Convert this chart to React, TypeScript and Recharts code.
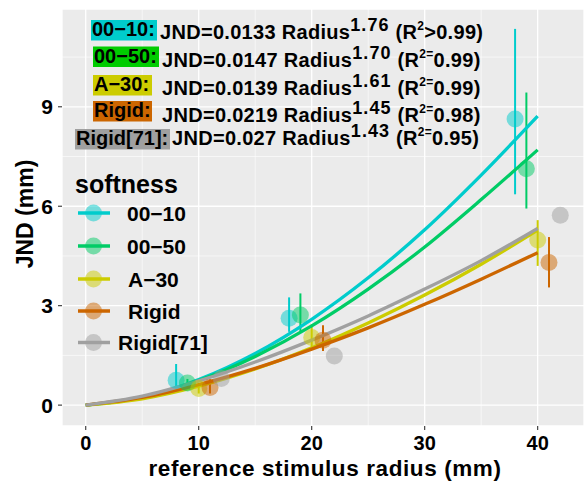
import {
    ComposedChart,
    Line,
    Scatter,
    ErrorBar,
    XAxis,
    YAxis,
    CartesianGrid,
    ReferenceLine
} from 'recharts'

// softness groups (legend order)
const softness = ['00−10', '00−50', 'A−30', 'Rigid', 'Rigid[71]']
const lineColors = ['#00CCCC', '#00CC66', '#CCCC00', '#CC6600', '#A0A0A0']
const labelFills = ['#00CCCC', '#00CC00', '#CCCC00', '#CC6600', '#A0A0A0']

// fit annotations
const coefs = ['0.0133', '0.0147', '0.0139', '0.0219', '0.027']
const exponents = ['1.76', '1.70', '1.61', '1.45', '1.43']
const r2Values = ['>0.99', '=0.99', '=0.99', '=0.98', '=0.95']

// measured points (x = reference radius, y = JND mean, low/high = error bar ends)
const x0010 = [8, 18, 38]
const y0010 = [0.75, 2.62, 8.63]
const low0010 = [0.45, 2.21, 6.36]
const high0010 = [1.24, 3.25, 11.35]

const x0050 = [9, 19, 39]
const y0050 = [0.67, 2.72, 7.13]
const low0050 = [0.53, 2.21, 5.93]
const high0050 = [0.79, 3.37, 9.43]

const xA30 = [10, 20, 40]
const yA30 = [0.5, 2.04, 4.98]
const lowA30 = [0.35, 1.66, 4.2]
const highA30 = [0.63, 2.44, 5.58]

const xRigid = [11, 21, 41]
const yRigid = [0.53, 1.96, 4.3]
const lowRigid = [0.35, 1.63, 3.55]
const highRigid = [0.78, 2.41, 5.07]

const xRigid71 = [12, 22, 42]
const yRigid71 = [0.8, 1.48, 5.73]

// fitted power curves
const fitX = [0, 5, 10, 15, 20, 25, 30, 35, 40]
const fit0010 = [0, 0.23, 0.77, 1.56, 2.59, 3.84, 5.29, 6.94, 8.72]
const fit0050 = [0, 0.23, 0.74, 1.47, 2.39, 3.5, 4.77, 6.2, 7.7]
const fitA30 = [0, 0.19, 0.57, 1.09, 1.73, 2.48, 3.32, 4.25, 5.28]
const fitRigid = [0, 0.23, 0.62, 1.11, 1.69, 2.33, 3.04, 3.8, 4.6]
const fitRigid71 = [0, 0.27, 0.73, 1.3, 1.96, 2.69, 3.5, 4.36, 5.33]

const xTicks = [0, 10, 20, 30, 40]
const yTicks = [0, 3, 6, 9]
const xMinor = [5, 15, 25, 35]
const yMinor = [1.5, 4.5, 7.5, 10.5]

const FONT = '"Liberation Sans", Arial, Helvetica, sans-serif'

function points(xs: number[], ys: number[], lows?: number[], highs?: number[]) {
    return xs.map((x, i) => ({
        x,
        y: ys[i],
        err: lows && highs ? [ys[i] - lows[i], highs[i] - ys[i]] : undefined
    }))
}

function curve(ys: number[]) {
    return fitX.map((x, i) => ({ x, y: ys[i] }))
}

const pointSets = [
    points(x0010, y0010, low0010, high0010),
    points(x0050, y0050, low0050, high0050),
    points(xA30, yA30, lowA30, highA30),
    points(xRigid, yRigid, lowRigid, highRigid),
    points(xRigid71, yRigid71)
]
const curveSets = [fit0010, fit0050, fitA30, fitRigid, fitRigid71].map(curve)

const dotShape = (color: string) => (props: any) => (
    <circle cx={props.cx} cy={props.cy} r={8.5} fill={color} fillOpacity={0.5} />
)

// annotation layout, pixels
const labelBaselines = [36, 62.5, 91, 117, 145]
const textBaselines = [38.5, 66.5, 95, 121.5, 145]
const labelX = [92, 94, 94, 94, 76]
const boxX = [91, 93, 93, 93, 75]
const boxW = [66, 66, 59, 59, 95]
const textX = [160, 162, 162, 162, 172]

const legendRows = [213, 246, 279, 311, 342.5]
const legendLabelX = [127, 127, 128, 128, 118]

function Annotations() {
    return (
        <svg
            width={587}
            height={483}
            style={{ position: 'absolute', left: 0, top: 0, pointerEvents: 'none' }}
            fontFamily={FONT}
            fontWeight="bold"
        >
            {softness.map((s, i) => (
                <g key={s}>
                    <rect x={boxX[i]} y={labelBaselines[i] - 16} width={boxW[i]} height={20.5} fill={labelFills[i]} />
                    <text x={labelX[i]} y={labelBaselines[i]} fontSize={20} fill="#000">{s}:</text>
                    <text x={textX[i]} y={textBaselines[i]} fontSize={20} letterSpacing={0.3} fill="#000">
                        JND={coefs[i]} Radius
                        <tspan dy={-8} fontSize={18} letterSpacing={1.1}>{exponents[i]}</tspan>
                        <tspan dy={8}> (R</tspan>
                        {r2Values[i][0] === '>' ? (
                            <>
                                <tspan dy={-9} fontSize={12}>2</tspan>
                                <tspan dy={9}>{r2Values[i]})</tspan>
                            </>
                        ) : (
                            <>
                                <tspan dy={-9} fontSize={12}>2=</tspan>
                                <tspan dy={9}>{r2Values[i].slice(1)})</tspan>
                            </>
                        )}
                    </text>
                </g>
            ))}

            <text x={75} y={193} fontSize={25} fill="#000">softness</text>
            {softness.map((s, i) => (
                <g key={'lg' + s}>
                    <circle cx={93.5} cy={legendRows[i]} r={8.5} fill={lineColors[i]} fillOpacity={0.5} />
                    <line x1={78} x2={110} y1={legendRows[i]} y2={legendRows[i]} stroke={lineColors[i]} strokeWidth={3.5} />
                    <text x={legendLabelX[i]} y={legendRows[i] + 7.5} fontSize={21} fill="#000">{s}</text>
                </g>
            ))}

            <text x={325} y={476} fontSize={22.5} letterSpacing={0.6} textAnchor="middle" fill="#000">
                reference stimulus radius (mm)
            </text>
            <text transform="translate(33,214) rotate(-90)" fontSize={23} textAnchor="middle" fill="#000">
                JND (mm)
            </text>
        </svg>
    )
}

export default function App() {
    return (
        <div style={{ position: 'absolute', left: 0, top: 0, width: 587, height: 483, background: '#fff' }}>
            <ComposedChart width={587} height={483} margin={{ top: 9, right: 3, left: 0, bottom: 0 }}>
                <CartesianGrid fill="#EBEBEB" stroke="#FFFFFF" strokeWidth={1.3} />
                {xMinor.map((v) => (
                    <ReferenceLine key={'vx' + v} x={v} stroke="#FFFFFF" strokeWidth={0.6} />
                ))}
                {yMinor.map((v) => (
                    <ReferenceLine key={'hy' + v} y={v} stroke="#FFFFFF" strokeWidth={0.6} />
                ))}
                <XAxis
                    type="number"
                    dataKey="x"
                    domain={[-2.1, 44.1]}
                    ticks={xTicks}
                    allowDataOverflow
                    height={57}
                    axisLine={false}
                    tickSize={4}
                    tickMargin={6}
                    tickLine={{ stroke: '#333333', strokeWidth: 1.1 }}
                    tick={{ fill: '#000', fontSize: 20, fontWeight: 'bold', fontFamily: FONT }}
                />
                <YAxis
                    type="number"
                    dataKey="y"
                    domain={[-0.63, 11.95]}
                    ticks={yTicks}
                    allowDataOverflow
                    width={62}
                    axisLine={false}
                    tickSize={4}
                    tickMargin={5}
                    tickLine={{ stroke: '#333333', strokeWidth: 1.1 }}
                    tick={{ fill: '#000', fontSize: 21, fontWeight: 'bold', fontFamily: FONT }}
                />
                {pointSets.map((d, i) => (
                    <Scatter
                        key={'pt' + i}
                        name={softness[i]}
                        data={d}
                        fill={lineColors[i]}
                        shape={dotShape(lineColors[i])}
                        isAnimationActive={false}
                    >
                        {i < 4 && (
                            <ErrorBar dataKey="err" direction="y" width={0} stroke={lineColors[i]} strokeWidth={2} />
                        )}
                    </Scatter>
                ))}
                {curveSets.map((d, i) => (
                    <Line
                        key={'fit' + i}
                        data={d}
                        dataKey="y"
                        type="monotone"
                        stroke={lineColors[i]}
                        strokeWidth={3.3}
                        dot={false}
                        activeDot={false}
                        isAnimationActive={false}
                    />
                ))}
            </ComposedChart>
            <Annotations />
        </div>
    )
}
